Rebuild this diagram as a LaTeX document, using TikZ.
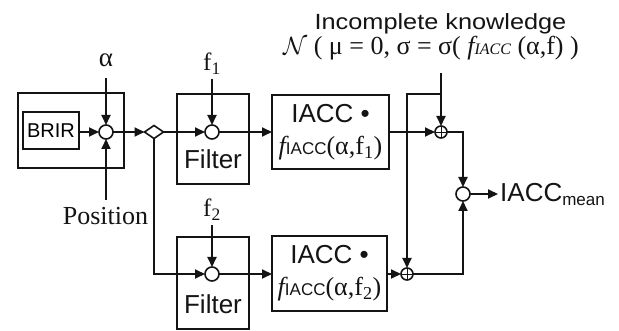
\documentclass[tikz,border=0pt]{standalone}
\usepackage{graphicx}
\usepackage{fontspec}
\setmainfont{Liberation Serif}
\setsansfont{Liberation Sans}
\usetikzlibrary{arrows.meta,shapes.geometric}
\definecolor{iaInk}{HTML}{141414}
\tikzset{
  ia line/.style={draw=iaInk, line width=1.8pt},
  ia arrow/.style={
    ia line,
    -{Triangle[length=10pt,width=9pt]}
  },
  ia box/.style={draw=iaInk, line width=1.8pt, inner sep=0pt, outer sep=0pt},
  ia mix/.style={
    circle, draw=iaInk, fill=white, line width=1.6pt,
    minimum size=14pt, inner sep=0pt, outer sep=0pt
  },
  ia sum/.style={
    ia mix, minimum size=12pt,
    path picture={
      \draw[line width=.8pt]
        (path picture bounding box.north) -- (path picture bounding box.south)
        (path picture bounding box.west) -- (path picture bounding box.east);
    }
  },
  ia split/.style={
    diamond, draw=iaInk, fill=white, line width=1.6pt,
    minimum width=19pt, minimum height=13pt, inner sep=0pt, outer sep=0pt
  },
  ia sans/.style={font=\sffamily\fontsize{26}{33}\selectfont, text=iaInk, inner sep=0pt},
  ia serif/.style={font=\rmfamily\fontsize{25}{30}\selectfont, text=iaInk, inner sep=0pt}
}

\begin{document}
\begin{tikzpicture}[x=1pt,y=-1pt]
  \useasboundingbox[fill=white] (0,0) rectangle (619,331);

  % left block
  \node[ia box, minimum width=106pt, minimum height=75pt] (brirFrame) at (71,130.5) {};
  \node[ia box, minimum width=56pt, minimum height=37pt, font=\sffamily\fontsize{20}{20}\selectfont]
    (brir) at (51,130.5) {BRIR};
  \node[ia mix] (mix) at (106,132) {};
  \node[ia split] (split) at (154,132) {};
  \node[ia serif, font=\rmfamily\fontsize{27}{30}\selectfont, anchor=base] (alpha) at (106,67) {α};
  \node[ia serif, font=\rmfamily\fontsize{26}{30}\selectfont, anchor=base] (position) at (105.5,225) {Position};
  \coordinate (alphaIn) at (106,78);
  \coordinate (positionIn) at (106,200);

  % filters
  \node[ia box, minimum width=72pt, minimum height=90pt] (filterA) at (213,139) {};
  \node[ia box, minimum width=72pt, minimum height=92pt] (filterB) at (213,283) {};
  \node[ia mix] (filterAmix) at (212,132) {};
  \node[ia mix] (filterBmix) at (212,274) {};
  \node[ia sans, anchor=base] (filterAtext) at (213,169) {Filter};
  \node[ia sans, anchor=base] (filterBtext) at (213,314) {Filter};
  \node[ia serif, anchor=base] (fA) at (212,71) {f\textsubscript{1}};
  \node[ia serif, anchor=base] (fB) at (212,217) {f\textsubscript{2}};
  \coordinate (fAin) at (212,79);
  \coordinate (fBin) at (212,225);

  % IACC blocks
  \node[ia box, ia sans, align=center, minimum width=117pt, minimum height=74pt] (iaccA) at (330.5,132)
    {IACC \textbullet\\[-1pt]{\rmfamily\itshape f}{\fontsize{17}{17}\selectfont IACC}{\rmfamily(α,f\textsubscript{1})}};
  \node[ia box, ia sans, align=center, minimum width=115pt, minimum height=75pt] (iaccB) at (329.5,273.5)
    {IACC \textbullet\\[-1pt]{\rmfamily\itshape f}{\fontsize{17}{17}\selectfont IACC}{\rmfamily(α,f\textsubscript{2})}};

  % noise and mean
  \node[ia sans, font=\sffamily\fontsize{22}{22}\selectfont, anchor=base] (knowledge) at (440.5,30)
    {\scalebox{1.15}[1]{Incomplete knowledge}};
  \node[ia serif, font=\rmfamily\fontsize{26}{30}\selectfont, anchor=base] (noise) at (431,55)
    {$\mathcal{N}$ ( μ = 0, σ = σ( {\itshape f{\fontsize{16}{16}\selectfont IACC}} (α,f) )};
  \coordinate (noiseIn) at (441,73);
  \coordinate (noiseJoin) at (441,94);
  \node[ia sum] (sumA) at (441,132) {};
  \node[ia sum] (sumB) at (407,274) {};
  \node[ia mix] (mean) at (463,194) {};
  \coordinate (meanOut) at (498,194);
  \node[ia sans, anchor=base west] (meanText) at (500,202)
    {IACC{\fontsize{17}{17}\selectfont\raisebox{-4pt}{mean}}};

  % connectors
  \draw[ia arrow] (brir.east |- mix) -- (mix);
  \draw[ia arrow] (alphaIn) -- (mix);
  \draw[ia arrow] (positionIn) -- (mix);
  \draw[ia arrow] (mix) -- (split);
  \draw[ia arrow] (split) -- (filterAmix);
  \draw[ia arrow] (split) |- (filterBmix);
  \draw[ia arrow] (fAin) -- (filterAmix);
  \draw[ia arrow] (fBin) -- (filterBmix);
  \draw[ia arrow] (filterAmix) -- (filterAmix -| iaccA.west);
  \draw[ia arrow] (filterBmix) -- (filterBmix -| iaccB.west);
  \draw[ia arrow] (iaccA.east |- sumA) -- (sumA);
  \draw[ia arrow] (iaccB.east |- sumB) -- (sumB);
  \draw[ia arrow] (noiseIn) -- (sumA);
  \draw[ia arrow] (noiseJoin) -| (sumB);
  \draw[ia arrow] (sumA) -| (mean);
  \draw[ia arrow] (sumB) -| (mean);
  \draw[ia arrow] (mean) -- (meanOut);
\end{tikzpicture}
\end{document}
